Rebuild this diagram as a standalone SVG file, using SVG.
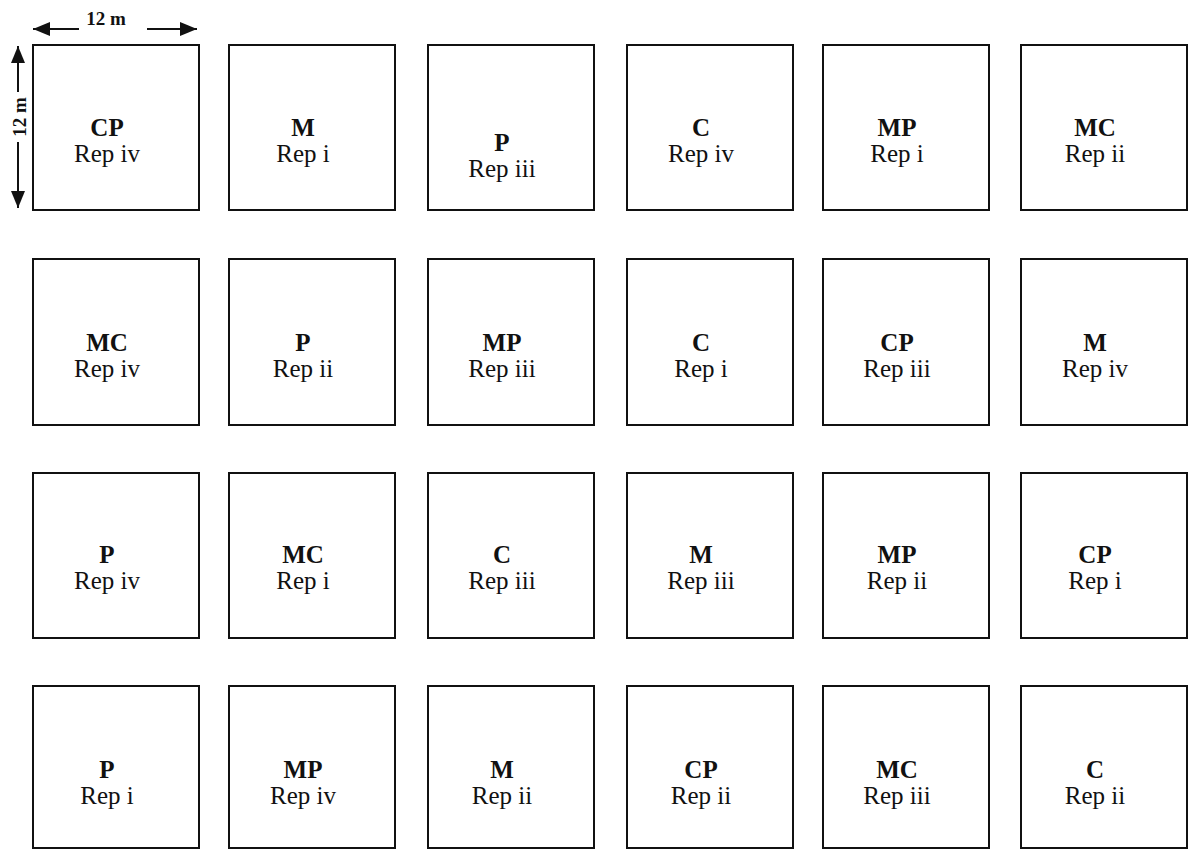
<svg xmlns="http://www.w3.org/2000/svg" width="1197" height="849" viewBox="0 0 1197 849">
<defs>
<style>
.plot rect{fill:#fff;stroke:#111;stroke-width:2}
.trt{font-family:"Liberation Serif","Times New Roman",serif;font-weight:bold;font-size:25px;fill:#111;text-anchor:middle}
.rep{font-family:"Liberation Serif","Times New Roman",serif;font-size:25px;fill:#111;text-anchor:middle}
.dim{stroke:#111;stroke-width:2;fill:none;marker-end:url(#ah)}
.dimtxt{font-family:"Liberation Serif","Times New Roman",serif;font-weight:bold;font-size:19px;fill:#111;text-anchor:middle}
</style>
<marker id="ah" markerUnits="userSpaceOnUse" markerWidth="17" markerHeight="14" refX="17" refY="7" orient="auto">
<path d="M0,0 L17,7 L0,14 z" fill="#111"/>
</marker>
</defs>
<rect width="1197" height="849" fill="#fff"/>
<g id="dimensions">
<line class="dim" x1="79" y1="29" x2="33" y2="29"/>
<line class="dim" x1="147" y1="29" x2="197" y2="29"/>
<text class="dimtxt" x="106" y="25">12 m</text>
<line class="dim" x1="18" y1="92" x2="18" y2="46"/>
<line class="dim" x1="18" y1="142" x2="18" y2="208"/>
<text class="dimtxt" transform="translate(26,117) rotate(-90)">12 m</text>
</g>
<g id="r1c1" class="plot"><rect x="33" y="45" width="166" height="165"/><text class="trt" x="107" y="136">CP</text><text class="rep" x="107" y="162">Rep iv</text></g>
<g id="r1c2" class="plot"><rect x="229" y="45" width="166" height="165"/><text class="trt" x="303" y="136">M</text><text class="rep" x="303" y="162">Rep i</text></g>
<g id="r1c3" class="plot"><rect x="428" y="45" width="166" height="165"/><text class="trt" x="502" y="151">P</text><text class="rep" x="502" y="177">Rep iii</text></g>
<g id="r1c4" class="plot"><rect x="627" y="45" width="166" height="165"/><text class="trt" x="701" y="136">C</text><text class="rep" x="701" y="162">Rep iv</text></g>
<g id="r1c5" class="plot"><rect x="823" y="45" width="166" height="165"/><text class="trt" x="897" y="136">MP</text><text class="rep" x="897" y="162">Rep i</text></g>
<g id="r1c6" class="plot"><rect x="1021" y="45" width="166" height="165"/><text class="trt" x="1095" y="136">MC</text><text class="rep" x="1095" y="162">Rep ii</text></g>

<g id="r2c1" class="plot"><rect x="33" y="259" width="166" height="166"/><text class="trt" x="107" y="351">MC</text><text class="rep" x="107" y="377">Rep iv</text></g>
<g id="r2c2" class="plot"><rect x="229" y="259" width="166" height="166"/><text class="trt" x="303" y="351">P</text><text class="rep" x="303" y="377">Rep ii</text></g>
<g id="r2c3" class="plot"><rect x="428" y="259" width="166" height="166"/><text class="trt" x="502" y="351">MP</text><text class="rep" x="502" y="377">Rep iii</text></g>
<g id="r2c4" class="plot"><rect x="627" y="259" width="166" height="166"/><text class="trt" x="701" y="351">C</text><text class="rep" x="701" y="377">Rep i</text></g>
<g id="r2c5" class="plot"><rect x="823" y="259" width="166" height="166"/><text class="trt" x="897" y="351">CP</text><text class="rep" x="897" y="377">Rep iii</text></g>
<g id="r2c6" class="plot"><rect x="1021" y="259" width="166" height="166"/><text class="trt" x="1095" y="351">M</text><text class="rep" x="1095" y="377">Rep iv</text></g>

<g id="r3c1" class="plot"><rect x="33" y="473" width="166" height="165"/><text class="trt" x="107" y="563">P</text><text class="rep" x="107" y="589">Rep iv</text></g>
<g id="r3c2" class="plot"><rect x="229" y="473" width="166" height="165"/><text class="trt" x="303" y="563">MC</text><text class="rep" x="303" y="589">Rep i</text></g>
<g id="r3c3" class="plot"><rect x="428" y="473" width="166" height="165"/><text class="trt" x="502" y="563">C</text><text class="rep" x="502" y="589">Rep iii</text></g>
<g id="r3c4" class="plot"><rect x="627" y="473" width="166" height="165"/><text class="trt" x="701" y="563">M</text><text class="rep" x="701" y="589">Rep iii</text></g>
<g id="r3c5" class="plot"><rect x="823" y="473" width="166" height="165"/><text class="trt" x="897" y="563">MP</text><text class="rep" x="897" y="589">Rep ii</text></g>
<g id="r3c6" class="plot"><rect x="1021" y="473" width="166" height="165"/><text class="trt" x="1095" y="563">CP</text><text class="rep" x="1095" y="589">Rep i</text></g>

<g id="r4c1" class="plot"><rect x="33" y="686" width="166" height="162"/><text class="trt" x="107" y="778">P</text><text class="rep" x="107" y="804">Rep i</text></g>
<g id="r4c2" class="plot"><rect x="229" y="686" width="166" height="162"/><text class="trt" x="303" y="778">MP</text><text class="rep" x="303" y="804">Rep iv</text></g>
<g id="r4c3" class="plot"><rect x="428" y="686" width="166" height="162"/><text class="trt" x="502" y="778">M</text><text class="rep" x="502" y="804">Rep ii</text></g>
<g id="r4c4" class="plot"><rect x="627" y="686" width="166" height="162"/><text class="trt" x="701" y="778">CP</text><text class="rep" x="701" y="804">Rep ii</text></g>
<g id="r4c5" class="plot"><rect x="823" y="686" width="166" height="162"/><text class="trt" x="897" y="778">MC</text><text class="rep" x="897" y="804">Rep iii</text></g>
<g id="r4c6" class="plot"><rect x="1021" y="686" width="166" height="162"/><text class="trt" x="1095" y="778">C</text><text class="rep" x="1095" y="804">Rep ii</text></g>
</svg>
